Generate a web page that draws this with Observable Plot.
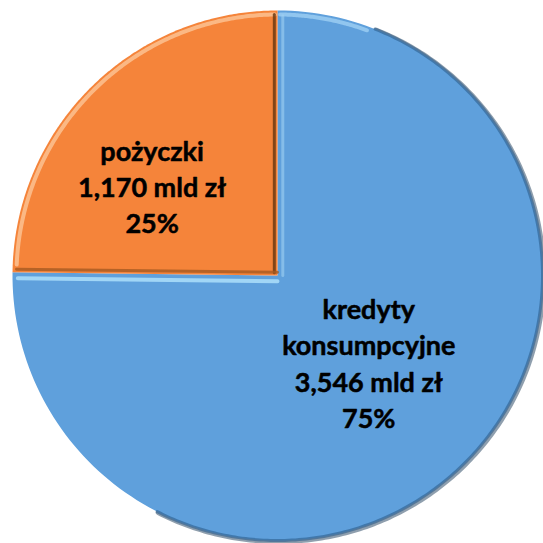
<!DOCTYPE html>
<html>
<head>
<meta charset="utf-8">
<script src="https://cdn.jsdelivr.net/npm/d3@7"></script>
<script src="https://cdn.jsdelivr.net/npm/@observablehq/plot@0.6"></script>
<style>
  html, body { margin: 0; padding: 0; background: #fff; }
  #chart { width: 543px; height: 543px; }
</style>
</head>
<body>
<div id="chart"></div>
<script>
// Data
const categories = ["kredyty konsumpcyjne", "pożyczki"];
const values = [3.546, 1.170];            // mld zł
const valueLabels = ["3,546 mld zł", "1,170 mld zł"];
const percentLabels = ["75%", "25%"];
const colors = ["#5fa0dc", "#f5843a"];

const rows = categories.map((c, i) => ({name: c, value: values[i], i}));
const arcs = d3.pie().value(d => d.value).sort(null)(rows);

// Geometry helpers (unit circle, y up, angle clockwise from 12 o'clock)
function pt(a, r) { return {x: r * Math.sin(a), y: r * Math.cos(a)}; }
function arcPts(a0, a1, r, key, n = 180) {
  const out = [];
  for (let k = 0; k <= n; k++) out.push({key, ...pt(a0 + (a1 - a0) * k / n, r)});
  return out;
}
const poly = [];
arcs.forEach(a => {
  const name = a.data.name;
  poly.push({name, ...pt(0, 0)});
  arcPts(a.startAngle, a.endAngle, 1, name).forEach(p => poly.push({name, x: p.x, y: p.y}));
  poly.push({name, ...pt(0, 0)});
});
const blue = arcs[0], orange = arcs[1];

// bevel/shadow decorations derived from slice angles
const rim = arcPts(0.12 * Math.PI, 1.15 * Math.PI, 1.0, "rim", 240);
const orangeTop = arcPts(orange.startAngle + 0.03, orange.endAngle - 0.01, 0.985, "ot");
const blueTop = arcPts(blue.startAngle + 0.01, blue.startAngle + 0.35, 0.985, "bt", 60);
const orangeRight = [pt(orange.endAngle, 0.985), pt(orange.endAngle, 0.01)].map(p => ({x: p.x - 0.012, y: p.y}));
const orangeBottom = [pt(orange.startAngle, 0.985), pt(orange.startAngle, 0.0)].map(p => ({x: p.x, y: p.y + 0.012}));
const blueEdge = [pt(blue.endAngle, 0.98), pt(blue.endAngle, 0.0)].map(p => ({x: p.x, y: p.y - 0.022}));
const blueEdge2 = [pt(blue.startAngle, 0.98), pt(blue.startAngle, 0.0)].map(p => ({x: p.x + 0.02, y: p.y}));

const labels = arcs.map(a => {
  const mid = (a.startAngle + a.endAngle) / 2;
  const i = a.data.i;
  const r = i === 0 ? 0.49 : 0.57;
  const off = i === 0 ? 0 : -0.2;
  const p = pt(mid + off, r);
  const lines = i === 0
    ? ["kredyty", "konsumpcyjne", valueLabels[i], percentLabels[i]]
    : [categories[i], valueLabels[i], percentLabels[i]];
  return {...p, text: lines.join("\n"), i};
});

const chart = Plot.plot({
  width: 543,
  height: 543,
  marginLeft: 12,
  marginRight: 1,
  marginTop: 10,
  marginBottom: 3,
  x: {domain: [-1, 1], axis: null},
  y: {domain: [-1, 1], axis: null},
  color: {domain: categories, range: colors},
  style: {background: "white"},
  marks: [
    Plot.line(rim, {x: "x", y: "y", stroke: "#1f3f5e", strokeWidth: 5, strokeOpacity: 0.5, dx: 1, dy: 1}),
    Plot.line(poly, {x: "x", y: "y", z: "name", fill: "name", stroke: "none"}),
    Plot.line(rim, {x: "x", y: "y", stroke: "#2c5d8c", strokeWidth: 3, strokeOpacity: 0.6}),
    Plot.line(orangeTop, {x: "x", y: "y", stroke: "#fcc597", strokeWidth: 4, strokeOpacity: 0.8}),
    Plot.line(blueTop, {x: "x", y: "y", stroke: "#a6d6f7", strokeWidth: 4, strokeOpacity: 0.7}),
    Plot.line(orangeRight, {x: "x", y: "y", stroke: "#6e3a12", strokeWidth: 3, strokeOpacity: 0.85}),
    Plot.line(orangeBottom, {x: "x", y: "y", stroke: "#a65a22", strokeWidth: 3, strokeOpacity: 0.8}),
    Plot.line(blueEdge, {x: "x", y: "y", stroke: "#a9dcf8", strokeWidth: 4, strokeOpacity: 0.9}),
    Plot.line(blueEdge2, {x: "x", y: "y", stroke: "#9fd0f2", strokeWidth: 3, strokeOpacity: 0.6}),
    Plot.text(labels, {
      x: "x", y: "y", text: "text",
      dy: -6,
      lineHeight: 1.34,
      fontSize: 27, fontWeight: "bold",
      fontFamily: "Lato, 'Open Sans', sans-serif",
      fill: "#000",
      stroke: "#000", strokeWidth: 0.5
    })
  ]
});
document.getElementById("chart").appendChild(chart);
</script>
</body>
</html>
